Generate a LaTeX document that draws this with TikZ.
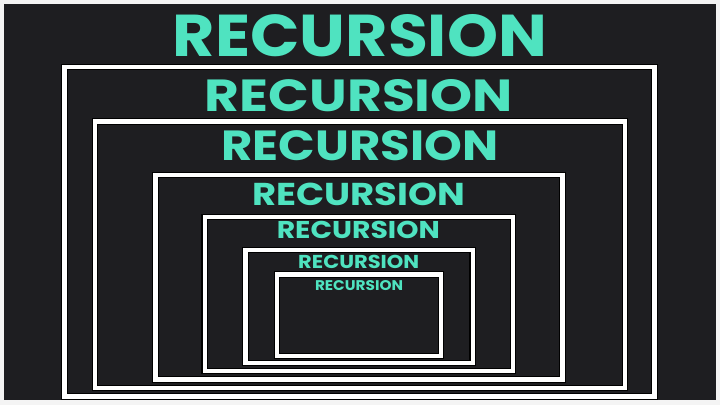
\documentclass[tikz,border=0pt]{standalone}
\usepackage{fontspec}
\newfontfamily\popfont{Poppins}
\usepackage{graphicx}
\definecolor{bg}{HTML}{1E1E21}
\definecolor{teal}{HTML}{4FE3C0}
\definecolor{edge}{HTML}{F4F4F4}
\begin{document}
\begin{tikzpicture}[x=1pt,y=-1pt,
  frame/.style={draw=black,line width=6.5pt},
  frameline/.style={draw=white,line width=4.4pt},
  word/.style={inner sep=0pt,text=teal,anchor=center}]
\useasboundingbox (0,0) rectangle (720,405);
\fill[edge] (0,0) rectangle (720,405);
\fill[bg] (4,4) rectangle (716,400);
% nested frames (left, top, right, bottom)
\foreach \l/\t/\r/\b in {64.5/67/654.5/396.5, 95/121.5/625/388, 155.5/175/562.5/379.5, 204.7/217/513/371, 245.5/250/472.7/363, 277/274.5/441/356}{
  \draw[frame] (\l,\t) rectangle (\r,\b);
  \draw[frameline] (\l,\t) rectangle (\r,\b);
}
\newcommand{\recword}[2]{\resizebox{#1pt}{#2pt}{\popfont\bfseries RECURSION}}
\node[word] (w1) at (360,36) {\recword{374}{42}};
\node[word] (w2) at (359,96) {\recword{308}{32}};
\node[word] (w3) at (360,146) {\recword{277}{30}};
\node[word] (w4) at (359,194.5) {\recword{213}{22.5}};
\node[word] (w5) at (358.3,230.4) {\recword{163}{17.3}};
\node[word] (w6) at (358.7,261.7) {\recword{121}{13.3}};
\node[word] (w7) at (359,285.7) {\recword{88}{10}};
\end{tikzpicture}
\end{document}
